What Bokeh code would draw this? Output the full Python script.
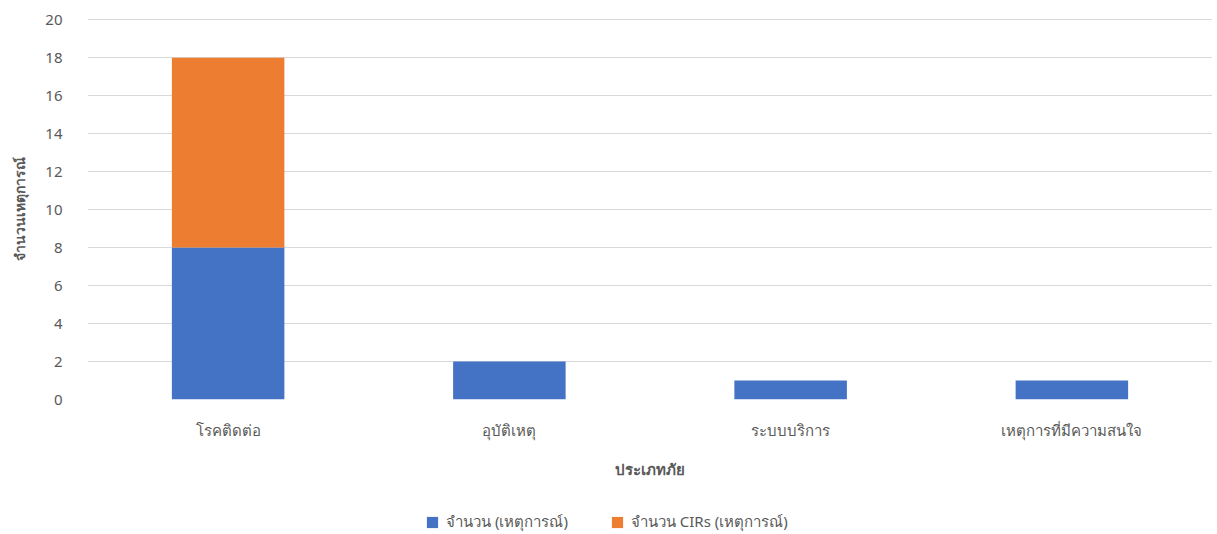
from bokeh.plotting import figure
from bokeh.layouts import column
from bokeh.models import ColumnDataSource, FactorRange, Range1d, Legend, LegendItem, SingleIntervalTicker
from bokeh.embed import file_html
from bokeh.resources import INLINE

categories = ["โรคติดต่อ", "อุบัติเหตุ", "ระบบบริการ", "เหตุการที่มีความสนใจ"]
count_events = [8, 2, 1, 1]
count_cirs = [10, 0, 0, 0]
series_names = ["จำนวน (เหตุการณ์)", "จำนวน CIRs (เหตุการณ์)"]
colors = ["#4472C4", "#ED7D31"]

src = ColumnDataSource(dict(cat=categories, a=count_events, b=count_cirs))

FONT = "Noto Sans"
GRAY = "#595959"

p = figure(x_range=FactorRange(*categories, range_padding=0), y_range=Range1d(0, 20.06),
           frame_width=1125, frame_height=381, output_backend="svg", toolbar_location=None,
           min_border_left=87, min_border_top=18, min_border_right=0, min_border_bottom=82)
p.outline_line_color = None

r = p.vbar_stack(["a", "b"], x="cat", width=0.4, source=src, color=colors, line_color=None)

p.yaxis.ticker = SingleIntervalTicker(interval=2)
p.yaxis.axis_line_color = None
p.yaxis.major_tick_line_color = None
p.yaxis.minor_tick_line_color = None
p.yaxis.major_label_text_font = FONT
p.yaxis.major_label_text_font_size = "15px"
p.yaxis.major_label_text_color = GRAY
p.yaxis.major_label_standoff = 19
p.yaxis.axis_label = "จำนวนเหตุการณ์"
p.yaxis.axis_label_text_font = FONT
p.yaxis.axis_label_text_font_style = "bold"
p.yaxis.axis_label_text_font_size = "14px"
p.yaxis.axis_label_text_color = GRAY
p.yaxis.axis_label_standoff = 13

p.xaxis.axis_line_color = None
p.xaxis.major_tick_line_color = None
p.xaxis.minor_tick_line_color = None
p.xaxis.major_label_text_font = FONT
p.xaxis.major_label_text_font_size = "15px"
p.xaxis.major_label_text_color = GRAY
p.xaxis.major_label_standoff = 14
p.xaxis.axis_label = "ประเภทภัย"
p.xaxis.axis_label_text_font = FONT
p.xaxis.axis_label_text_font_style = "bold"
p.xaxis.axis_label_text_font_size = "15px"
p.xaxis.axis_label_text_color = GRAY
p.xaxis.axis_label_standoff = 16

p.xgrid.grid_line_color = None
p.ygrid.grid_line_color = "#D9D9D9"
p.ygrid.grid_line_width = 1

# Legend strip below the chart (separate small figure so the legend is not clipped)
lg = figure(frame_width=1212, frame_height=53, output_backend="svg", toolbar_location=None,
            x_axis_location=None, y_axis_location=None, min_border=0,
            x_range=Range1d(0, 1), y_range=Range1d(0, 1))
lg.outline_line_color = None
lg.grid.grid_line_color = None
items = []
for name, col in zip(series_names, colors):
    # legend-only proxy glyph, kept outside the visible range
    rr = lg.vbar(x=[-5], top=[-5], bottom=[-6], width=0.1, fill_color=col, line_color=None)
    items.append(LegendItem(label=name, renderers=[rr]))

legend = Legend(items=items, orientation="horizontal", location=(425, 0),
                label_text_font=FONT, label_text_font_size="15px", label_text_color=GRAY,
                glyph_width=14, glyph_height=14, spacing=42, label_standoff=7,
                border_line_color=None, background_fill_alpha=0, margin=0, padding=0)
lg.add_layout(legend)

layout = column(p, lg, spacing=0)
open("out.html", "w").write(file_html(layout, INLINE))
